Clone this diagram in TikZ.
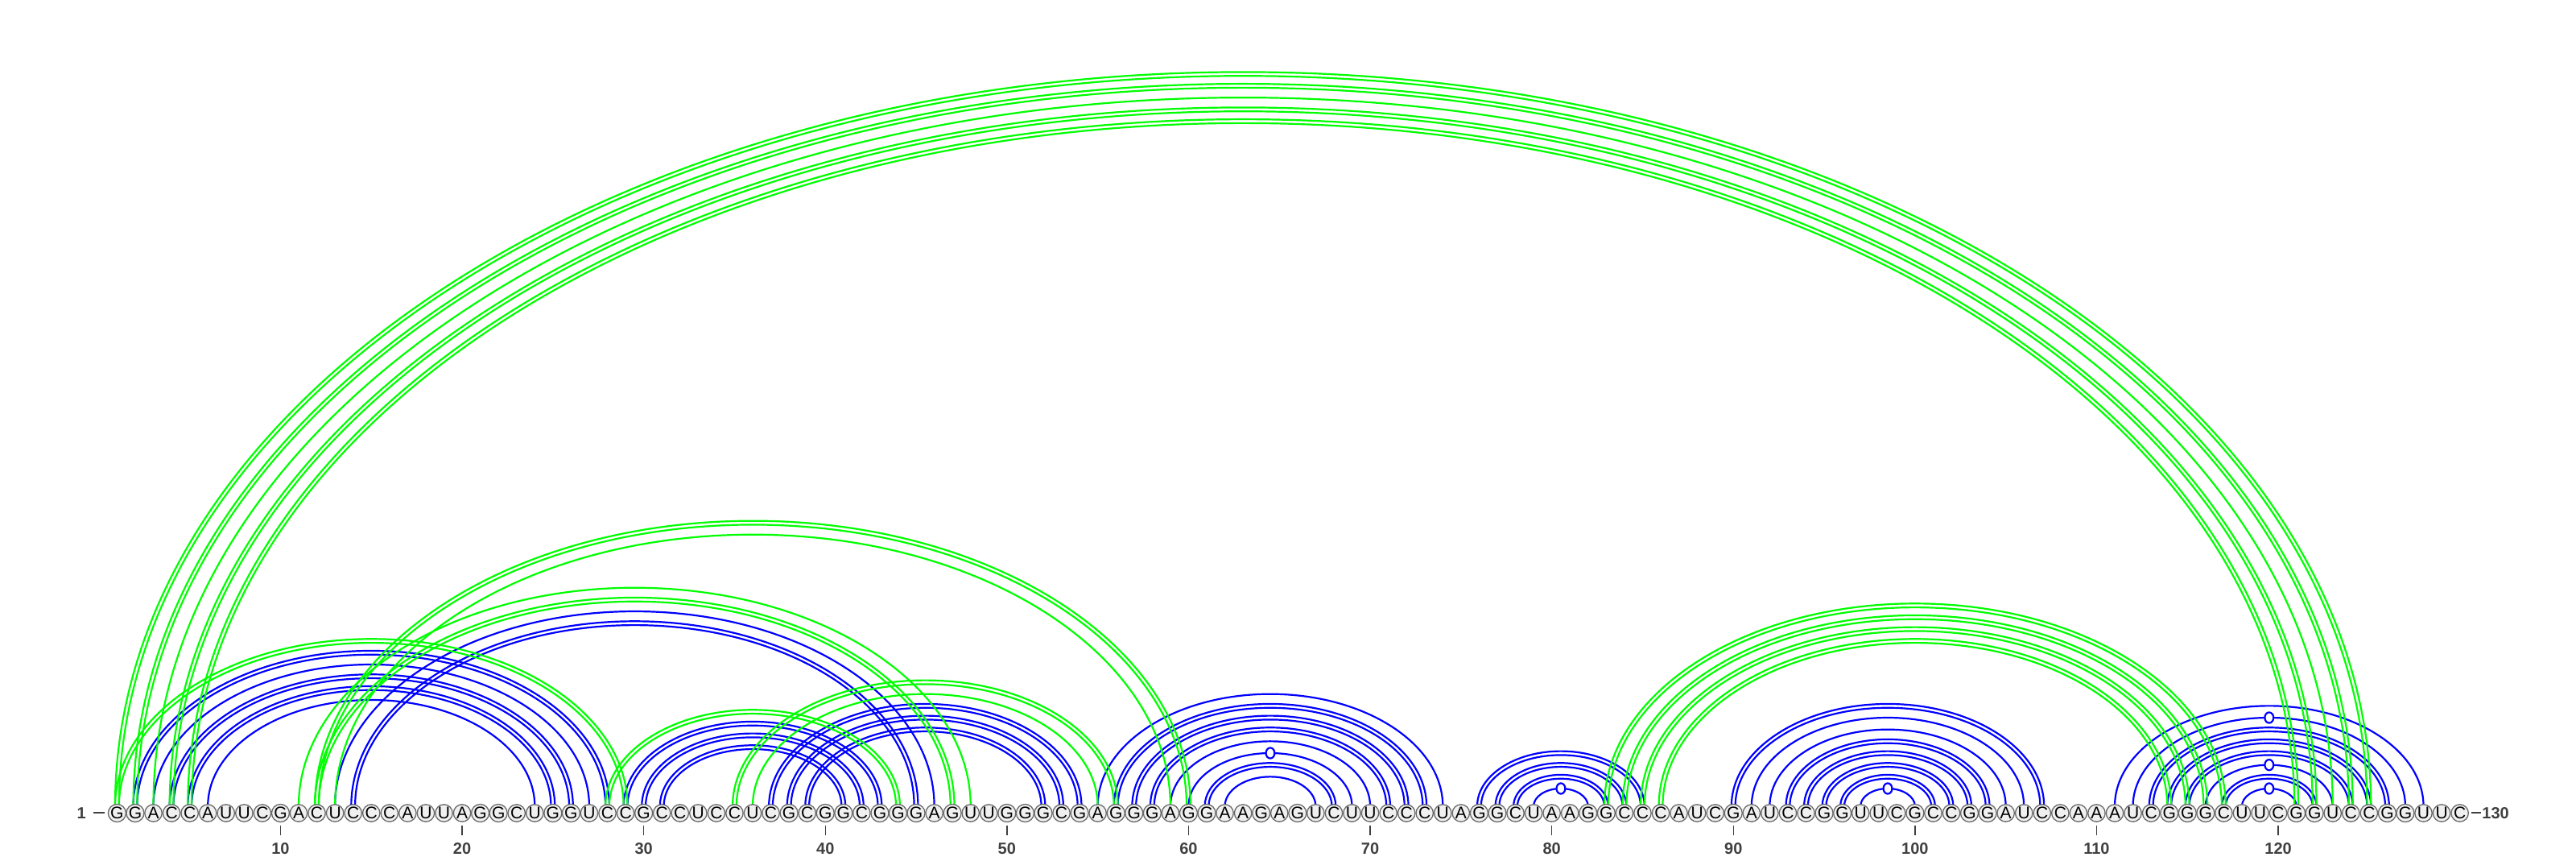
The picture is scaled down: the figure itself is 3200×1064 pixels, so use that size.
\documentclass[tikz,border=0pt]{standalone}
\usepackage{fontspec}
\setmainfont{Liberation Sans}
\usetikzlibrary{calc,shapes.geometric}
\definecolor{arcblue}{RGB}{0,0,255}
\definecolor{arcgreen}{RGB}{0,255,0}
\definecolor{nucfill}{RGB}{240,240,240}
\definecolor{nucline}{RGB}{105,105,105}
\definecolor{labgray}{RGB}{64,64,64}
\pgfdeclarelayer{bg}
\pgfsetlayers{bg,main}
% single pair (A-U)
\newcommand\arcS[3]{\draw[#3] let \p1=(n#1.center), \p2=(n#2.center), \n1={(\x2-\x1)/2} in
  (\x1,\y1+4.25pt) arc[start angle=180,end angle=0,x radius={\n1},y radius={0.65*\n1}];}
% double pair (G-C)
\newcommand\arcD[3]{\draw[#3] let \p1=(n#1.center), \p2=(n#2.center), \n1={(\x2-\x1)/2} in
  (\x1-1.2pt,\y1+4.25pt) arc[start angle=180,end angle=0,x radius={\n1+1.2pt},y radius={0.65*\n1+1.2pt}]
  (\x1+1.2pt,\y1+4.25pt) arc[start angle=180,end angle=0,x radius={\n1-1.2pt},y radius={0.65*\n1-1.2pt}];}
% wobble pair (G-U) with a small circle on top
\newcommand\arcW[3]{\arcS{#1}{#2}{#3}\path let \p1=(n#1.center), \p2=(n#2.center), \n1={(\x2-\x1)/2} in
  node[gumark] (gu#1) at (\x1+\n1,\y1+4.25pt+0.65*\n1) {};}
\begin{document}
\begin{tikzpicture}[x=0.5pt,y=0.5pt,
  nuc/.style={circle,draw=nucline,fill=nucfill,line width=0.65pt,minimum size=10.7pt,inner sep=0pt,font=\fontsize{10.5}{12}\selectfont},
  numlab/.style={inner sep=0pt,text=labgray,font=\fontsize{10}{12}\selectfont\bfseries},
  tickmark/.style={draw=labgray,line width=0.7pt},
  bluepair/.style={draw=arcblue,line width=1.1pt},
  greenpair/.style={draw=arcgreen,line width=1.1pt},
  gumark/.style={ellipse,draw=arcblue,fill=white,line width=1.1pt,minimum width=5.4pt,minimum height=6.6pt,inner sep=0pt}]
\useasboundingbox (0,0) rectangle (3200,1064);
\foreach \b [count=\i] in {G,G,A,C,C,A,U,U,C,G, A,C,U,C,C,C,A,U,U,A, G,G,C,U,G,G,U,C,C,G, C,C,U,C,C,U,C,G,C,G, G,C,G,G,G,A,G,U,U,G, G,G,C,G,A,G,G,G,A,G, G,A,A,G,A,G,U,C,U,U, C,C,C,U,A,G,G,C,U,A, A,G,G,C,C,C,A,U,C,G, A,U,C,C,G,G,U,U,C,G, C,C,G,G,A,U,C,C,A,A, A,U,C,G,G,G,C,U,U,C, G,G,U,C,C,G,G,U,U,C}
  \node[nuc] (n\i) at ({145.4+(\i-1)*22.56},54.5) {\b};
\foreach \k in {10,20,...,120} {
  \draw[tickmark] ($(n\k.center)+(0,-15.5)$) -- ($(n\k.center)+(0,-27.5)$);
  \node[numlab] (lab\k) at ($(n\k.center)+(0,-44.5)$) {\k};
}
\node[numlab,anchor=east] (labfirst) at (130,54.5) {1\hspace{4.4pt}\rule[3.3pt]{7pt}{0.75pt}};
\node[numlab,anchor=west] (lablast) at (3070,54.5) {\rule[3.3pt]{6pt}{0.75pt}\hspace{0.5pt}130};
\begin{pgfonlayer}{bg}
\fill[white] (0,0) rectangle (3200,1064);
% blue structure
\arcD{2}{28}{bluepair} \arcS{3}{27}{bluepair} \arcD{4}{26}{bluepair} \arcD{5}{25}{bluepair} \arcS{6}{24}{bluepair}
\arcS{13}{46}{bluepair} \arcD{14}{45}{bluepair}
\arcD{29}{43}{bluepair} \arcD{30}{42}{bluepair} \arcD{31}{41}{bluepair}
\arcD{37}{54}{bluepair} \arcD{38}{53}{bluepair} \arcD{39}{52}{bluepair}
\arcS{55}{74}{bluepair} \arcD{56}{73}{bluepair} \arcD{57}{72}{bluepair} \arcD{58}{71}{bluepair}
\arcS{59}{70}{bluepair} \arcW{60}{69}{bluepair} \arcD{61}{68}{bluepair} \arcS{62}{67}{bluepair}
\arcD{76}{85}{bluepair} \arcD{77}{84}{bluepair} \arcD{78}{83}{bluepair} \arcW{79}{82}{bluepair}
\arcD{90}{107}{bluepair} \arcS{91}{106}{bluepair} \arcS{92}{105}{bluepair} \arcD{93}{104}{bluepair}
\arcD{94}{103}{bluepair} \arcD{95}{102}{bluepair} \arcD{96}{101}{bluepair} \arcW{97}{100}{bluepair}
\arcS{111}{128}{bluepair} \arcW{112}{127}{bluepair} \arcD{113}{126}{bluepair} \arcD{114}{125}{bluepair}
\arcD{115}{124}{bluepair} \arcW{116}{123}{bluepair} \arcD{117}{122}{bluepair} \arcW{118}{121}{bluepair}
% green structure
\arcD{1}{125}{greenpair} \arcD{2}{124}{greenpair} \arcS{3}{123}{greenpair} \arcD{4}{122}{greenpair} \arcD{5}{121}{greenpair}
\arcD{1}{29}{greenpair}
\arcS{11}{48}{greenpair} \arcD{12}{47}{greenpair}
\arcD{12}{60}{greenpair} \arcS{13}{59}{greenpair}
\arcD{28}{44}{greenpair}
\arcD{35}{56}{greenpair} \arcS{36}{55}{greenpair}
\arcD{83}{117}{greenpair} \arcD{84}{116}{greenpair} \arcD{85}{115}{greenpair} \arcD{86}{114}{greenpair}
\end{pgfonlayer}
\end{tikzpicture}
\end{document}
